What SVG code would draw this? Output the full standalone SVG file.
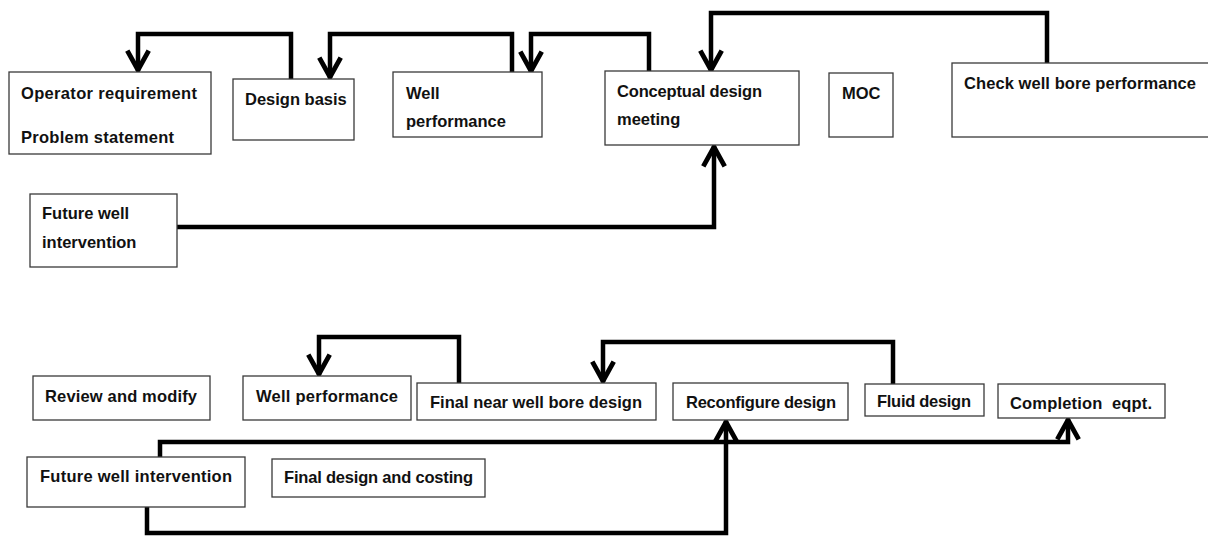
<svg xmlns="http://www.w3.org/2000/svg" width="1208" height="537" viewBox="0 0 1208 537">
<defs>
<style>
.box{fill:#fff;stroke:#3a3a3a;stroke-width:1.3}
.t{font-family:"Liberation Sans",Arial,sans-serif;font-weight:bold;font-size:16.5px;fill:#111}
.c{fill:none;stroke:#000;stroke-width:4.5;stroke-linejoin:miter}
</style>
<marker id="arr" markerUnits="userSpaceOnUse" markerWidth="30" markerHeight="30" viewBox="-24 -13 28 26" refX="0" refY="0" orient="auto">
<path d="M -19 -10 L -1 0 L -19 10" fill="none" stroke="#000" stroke-width="4.5"/>
</marker>
</defs>
<rect width="1208" height="537" fill="#fff"/>

<g id="connectors">
<path class="c" d="M291 79 V34 H138 V71" marker-end="url(#arr)"/>
<path class="c" d="M512 72 V34 H330 V78" marker-end="url(#arr)"/>
<path class="c" d="M649 71 V34 H531 V72" marker-end="url(#arr)"/>
<path class="c" d="M1047 63 V13 H711 V71" marker-end="url(#arr)"/>
<path class="c" d="M177 227 H714 V146" marker-end="url(#arr)"/>
<path class="c" d="M459 383 V337 H319 V375" marker-end="url(#arr)"/>
<path class="c" d="M893 384 V342 H603 V382" marker-end="url(#arr)"/>
<path class="c" d="M160 457 V442 H1068 V419" marker-end="url(#arr)"/>
<path class="c" d="M147 507 V533 H726 V421" marker-end="url(#arr)"/>
</g>

<g id="operator">
<rect class="box" x="9" y="72" width="202" height="82"/>
<text class="t" x="21" y="99" textLength="176">Operator requirement</text>
<text class="t" x="21" y="143" textLength="153">Problem statement</text>
</g>
<g id="design-basis">
<rect class="box" x="233" y="79" width="121" height="61"/>
<text class="t" x="245" y="105">Design basis</text>
</g>
<g id="well-performance-top">
<rect class="box" x="393" y="72" width="149" height="65"/>
<text class="t" x="406" y="99">Well</text>
<text class="t" x="406" y="127">performance</text>
</g>
<g id="conceptual">
<rect class="box" x="605" y="71" width="194" height="74"/>
<text class="t" x="617" y="97" textLength="145">Conceptual design</text>
<text class="t" x="617" y="125">meeting</text>
</g>
<g id="moc">
<rect class="box" x="829" y="73" width="64" height="64"/>
<text class="t" x="842" y="99">MOC</text>
</g>
<g id="check-well-bore">
<rect class="box" x="952" y="63" width="262" height="74"/>
<text class="t" x="964" y="89" textLength="232">Check well bore performance</text>
</g>
<g id="future-well-top">
<rect class="box" x="30" y="194" width="147" height="73"/>
<text class="t" x="42" y="219">Future well</text>
<text class="t" x="42" y="248">intervention</text>
</g>

<g id="review-modify">
<rect class="box" x="33" y="376" width="177" height="44"/>
<text class="t" x="45" y="402" textLength="152">Review and modify</text>
</g>
<g id="well-performance-bottom">
<rect class="box" x="243" y="376" width="168" height="44"/>
<text class="t" x="256" y="402" textLength="142">Well performance</text>
</g>
<g id="final-near-well-bore">
<rect class="box" x="417" y="383" width="239" height="37"/>
<text class="t" x="430" y="408" textLength="212">Final near well bore design</text>
</g>
<g id="reconfigure">
<rect class="box" x="673" y="383" width="175" height="37"/>
<text class="t" x="686" y="408" textLength="150">Reconfigure design</text>
</g>
<g id="fluid-design">
<rect class="box" x="865" y="384" width="119" height="32"/>
<text class="t" x="877" y="407" textLength="94">Fluid design</text>
</g>
<g id="completion">
<rect class="box" x="998" y="384" width="167" height="34"/>
<text class="t" x="1010" y="409" textLength="142" xml:space="preserve">Completion  eqpt.</text>
</g>
<g id="future-well-bottom">
<rect class="box" x="27" y="457" width="218" height="50"/>
<text class="t" x="40" y="482" textLength="192">Future well intervention</text>
</g>
<g id="final-design-costing">
<rect class="box" x="272" y="459" width="213" height="38"/>
<text class="t" x="284" y="483" textLength="189">Final design and costing</text>
</g>
</svg>
